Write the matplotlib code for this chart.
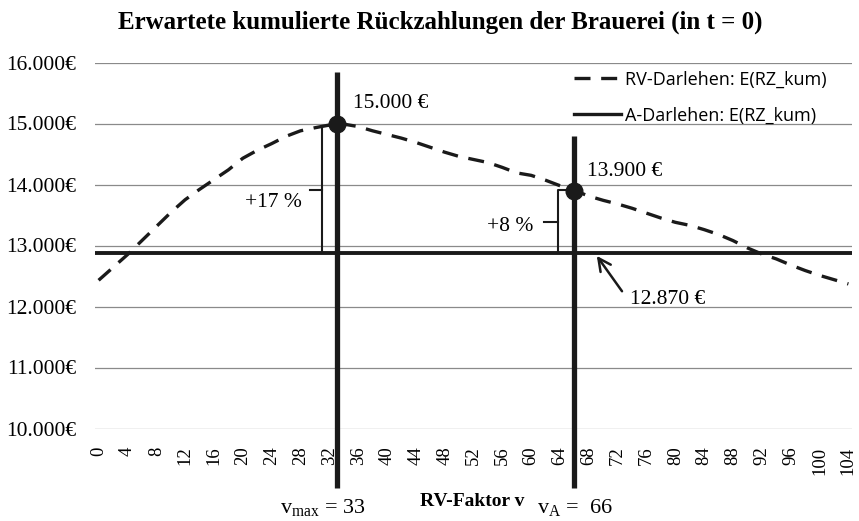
import matplotlib
matplotlib.use("Agg")
import matplotlib.pyplot as plt
from matplotlib.lines import Line2D

# ---------------- data ----------------
rv_factor = [0, 2, 4, 6, 8, 10, 12, 14, 16, 18, 20, 22, 24, 26, 28, 30, 32, 33,
             34, 36, 38, 40, 42, 44, 46, 48, 50, 52, 54, 56, 58, 60, 62, 64, 66,
             68, 70, 72, 74, 76, 78, 80, 82, 84, 86, 88, 90, 92, 94, 96, 98, 100,
             102, 104]
rv_darlehen = [12430, 12640, 12850, 13080, 13310, 13540, 13750, 13920, 14080,
               14240, 14430, 14560, 14670, 14790, 14880, 14930, 14975, 15000,
               14990, 14950, 14880, 14820, 14760, 14690, 14610, 14530, 14460,
               14410, 14360, 14280, 14190, 14150, 14070, 13980, 13900,
               13810, 13740, 13680, 13610, 13530, 13450, 13380, 13330, 13260,
               13180, 13080, 12960, 12860, 12780, 12680, 12590, 12510, 12440,
               12370]
a_darlehen = 12870
v_max, rv_at_vmax = 33, 15000
v_A, rv_at_vA = 66, 13900
pct_vmax = "+17 %"
pct_vA = "+8 %"
y_ticks = [10000, 11000, 12000, 13000, 14000, 15000, 16000]
y_tick_labels = ["10.000€", "11.000€", "12.000€", "13.000€", "14.000€", "15.000€", "16.000€"]
x_ticks = list(range(0, 105, 4))
x_tick_labels = [str(t) for t in x_ticks]
series_names = ["RV-Darlehen: E(RZ_kum)", "A-Darlehen: E(RZ_kum)"]
title = "Erwartete kumulierte Rückzahlungen der Brauerei (in t = 0)"

# ---------------- style ----------------
plt.rcParams['font.family'] = ['Liberation Serif', 'DejaVu Serif']
plt.rcParams['mathtext.fontset'] = 'custom'
plt.rcParams['mathtext.rm'] = 'Liberation Serif'
plt.rcParams['mathtext.it'] = 'Liberation Serif:italic'

INK = '#1a1a1a'
fig = plt.figure(figsize=(8.59, 5.21), dpi=100)
ax = fig.add_axes([95 / 859, 1 - 428.5 / 521, (852 - 95) / 859, (428.5 - 62.5) / 521])

ax.set_xlim(-0.5, 104.5)
ax.set_ylim(10000, 16000)
ax.set_yticks(y_ticks)
ax.set_yticklabels(y_tick_labels, fontsize=15.5)
ax.set_xticks(x_ticks)
ax.set_xticklabels(x_tick_labels, rotation=90, fontsize=13.5)
ax.tick_params(axis='y', length=0, pad=13.5)
ax.tick_params(axis='x', length=0, pad=13)
for s in ax.spines.values():
    s.set_visible(False)
ax.grid(axis='y', color='#8a8a8a', linewidth=0.9)
ax.set_axisbelow(True)

# series
ax.plot(rv_factor, rv_darlehen, color=INK, linewidth=2.4,
        dashes=(4.8, 3.2), dash_capstyle='butt', zorder=3)
ax.axhline(a_darlehen, color=INK, linewidth=2.8, zorder=3)

# vertical markers (extend beyond axes)
for v, top in [(v_max, 15850), (v_A, 14800)]:
    ax.plot([v, v], [9030, top], color=INK, linewidth=3.8,
            clip_on=False, solid_capstyle='butt', zorder=4)
ax.plot([v_max, v_A], [rv_at_vmax, rv_at_vA], linestyle='none', marker='o',
        markersize=12, color=INK, zorder=5)

# value labels
ax.text(35.3, 15330, "15.000 €", fontsize=15.5, ha='left', va='center')
ax.text(67.7, 14215, "13.900 €", fontsize=15.5, ha='left', va='center')
ax.text(73.7, 12115, "12.870 €", fontsize=15.5, ha='left', va='center')

# brackets
bk = dict(color=INK, linewidth=1.5, zorder=4, solid_joinstyle='round')
ax.plot([32.1, 31.0, 31.0, 32.5], [14951, 14951, 12885, 12885], **bk)
ax.plot([29.3, 31.0], [13918, 13918], **bk)
ax.plot([64.7, 63.7, 63.7], [13902, 13902, 12885], **bk)
ax.plot([61.8, 63.7], [13393, 13393], **bk)
ax.text(28.2, 13700, pct_vmax, fontsize=15.5, ha='right', va='center')
ax.text(60.3, 13305, pct_vA, fontsize=15.5, ha='right', va='center')

# arrow
ax.annotate("", xy=(69.1, 12830), xytext=(72.6, 12250),
            arrowprops=dict(arrowstyle='->,head_length=0.9,head_width=0.45',
                            color=INK, lw=1.8, shrinkA=0, shrinkB=0))

# legend
handles = [Line2D([], [], color=INK, linewidth=2.4, dashes=(4.8, 3.2)),
           Line2D([], [], color=INK, linewidth=2.4)]
leg = fig.legend(handles, series_names, loc='center left', frameon=False,
                 prop={'family': 'Open Sans', 'size': 13},
                 handlelength=2.6, handletextpad=0.25, labelspacing=1.0,
                 borderpad=0, borderaxespad=0,
                 bbox_to_anchor=(574 / 859, 1 - 97.5 / 521))

# title
fig.text(440 / 859, 1 - 22 / 521, title, fontsize=18, fontweight='bold',
         ha='center', va='center')

# bottom labels
fig.text(323 / 859, 1 - 507 / 521, r"$\mathregular{v_{max}}$ = 33", fontsize=16,
         ha='center', va='center')
fig.text(472 / 859, 1 - 501 / 521, "RV-Faktor v", fontsize=14, fontweight='bold',
         ha='center', va='center')
fig.text(575 / 859, 1 - 507 / 521, r"$\mathregular{v_A}$ =  66", fontsize=16,
         ha='center', va='center')

fig.savefig("out.png", dpi=100)
